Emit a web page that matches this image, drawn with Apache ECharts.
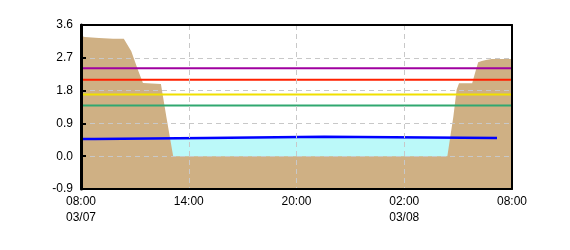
<!DOCTYPE html>
<html>
<head>
<meta charset="utf-8">
<script src="https://cdn.jsdelivr.net/npm/echarts@6/dist/echarts.min.js"></script>
<style>html,body{margin:0;padding:0;background:#fff}#c{width:570px;height:250px}</style>
</head>
<body>
<div id="c"></div>
<script>
// ---- data ----
const xTickLabels = ['08:00\n03/07', '14:00', '20:00', '02:00\n03/08', '08:00'];
const yTicks = [-0.9, 0.0, 0.9, 1.8, 2.7, 3.6];

const brownTimes = ['03/07 08:00','03/07 08:13','03/07 09:00','03/07 09:47','03/07 10:23','03/07 10:48','03/07 11:10','03/07 11:27','03/07 12:27','03/07 12:46','03/07 13:08',
                    '03/08 04:24','03/08 04:33','03/08 04:44','03/08 04:55','03/08 05:03','03/08 05:47','03/08 05:56','03/08 06:07','03/08 06:19','03/08 06:33','03/08 06:52','03/08 08:00'];
const brownValues = [3.30,3.27,3.24,3.22,3.22,2.88,2.37,2.01,1.98,1.04,0.00,
                     0.00,0.49,1.08,1.82,2.00,2.00,2.27,2.58,2.61,2.64,2.67,2.67];

// blue level: piecewise-constant segments (start time, value), last segment ends at blueEnd
const blueStarts = ['03/07 08:00','03/07 08:45','03/07 14:57','03/07 21:32'];
const blueValues = [0.47, 0.50, 0.535, 0.50];
const blueEnd = '03/08 07:10';

const levelNames = ['purple','red','yellow','green'];
const levelValues = [2.41, 2.10, 1.69, 1.39];
const levelColors = ['#a000a0','#ff2000','#f0e000','#30a870'];
const spanTimes = ['03/07 08:00','03/08 08:00'];

// ---- helpers ----
function toHours(s) {
  const [d, t] = s.split(' ');
  const day = parseInt(d.split('/')[1], 10);
  const [h, m] = t.split(':').map(Number);
  return (day - 7) * 24 + h + m / 60 - 8;
}
const pair = (ts, vs) => ts.map((t, i) => [toHours(t), vs[i]]);
function stepPoints(starts, vals, end) {
  const pts = [];
  starts.forEach((s, i) => {
    const e = i + 1 < starts.length ? starts[i + 1] : end;
    pts.push([toHours(s), vals[i]], [toHours(e), vals[i]]);
  });
  return pts;
}
const blueData = stepPoints(blueStarts, blueValues, blueEnd);

const gridLine = { show: true, showMinLine: false, showMaxLine: false,
  lineStyle: { color: '#c8c8c8', type: [5, 4], width: 1 } };
const frameLine = (w) => ({ show: true, onZero: false, lineStyle: { color: '#000', width: w } });

const series = [
  { name: 'fill', type: 'line', data: blueData, symbol: 'none',
    lineStyle: { width: 0 }, areaStyle: { color: '#bbf9f9', opacity: 1, origin: 'start' }, silent: true },
  { name: 'ground', type: 'line', data: pair(brownTimes, brownValues), symbol: 'none',
    lineStyle: { width: 0 }, areaStyle: { color: '#cfb084', opacity: 1, origin: 'start' }, silent: true },
  { name: 'level', type: 'line', data: blueData, symbol: 'none',
    lineStyle: { width: 2.5, color: '#0000ff' } }
];
levelValues.forEach((v, i) => {
  series.push({ name: levelNames[i], type: 'line', symbol: 'none',
    data: spanTimes.map(t => [toHours(t), v]),
    lineStyle: { width: 2, color: levelColors[i] } });
});

const chart = echarts.init(document.getElementById('c'), null, { renderer: 'canvas' });
chart.setOption({
  animation: false,
  textStyle: { fontFamily: 'Liberation Sans, Arial, sans-serif' },
  grid: { left: 81, right: 58, top: 25, bottom: 61, show: false },
  xAxis: [{
    type: 'value', min: 0, max: 24, interval: 6, z: 5,
    axisLine: frameLine(2),
    axisTick: { show: false },
    axisLabel: { color: '#000', fontSize: 12, lineHeight: 16, margin: 5,
      formatter: v => xTickLabels[Math.round(v / 6)] },
    splitLine: gridLine
  }, {
    type: 'value', position: 'top', min: 0, max: 24, interval: 6, z: 5,
    axisLine: frameLine(2),
    axisTick: { show: false }, axisLabel: { show: false }, splitLine: { show: false }
  }],
  yAxis: [{
    type: 'value', min: yTicks[0], max: yTicks[yTicks.length - 1], interval: 0.9, z: 5,
    axisLine: frameLine(3),
    axisTick: { show: true, inside: true, length: 5, lineStyle: { color: '#000', width: 2 } },
    axisLabel: { color: '#000', fontSize: 12, margin: 8, formatter: v => (Math.abs(v) < 1e-9 ? 0 : v).toFixed(1) },
    splitLine: gridLine
  }, {
    type: 'value', position: 'right', min: yTicks[0], max: yTicks[yTicks.length - 1], interval: 0.9, z: 5,
    axisLine: frameLine(2),
    axisTick: { show: false }, axisLabel: { show: false }, splitLine: { show: false }
  }],
  series: series
});
</script>
</body>
</html>
